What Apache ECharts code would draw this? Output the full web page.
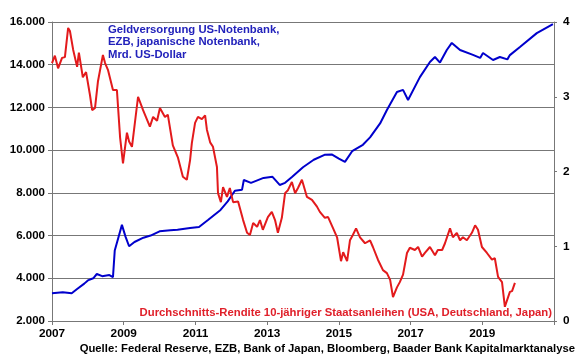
<!DOCTYPE html>
<html>
<head>
<meta charset="utf-8">
<script src="https://cdn.jsdelivr.net/npm/echarts@6/dist/echarts.min.js"></script>
<style>
html,body{margin:0;padding:0;background:#fff;}
#c{width:580px;height:359px;}
</style>
</head>
<body>
<div id="c"></div>
<script>
// Geldversorgung (Mrd. US-Dollar), left axis
const blueYears = [2007.0,2007.3,2007.55,2007.7,2007.9,2008.0,2008.15,2008.25,2008.4,2008.6,2008.7,2008.75,2008.85,2008.95,2009.05,2009.15,2009.3,2009.55,2009.75,2010.0,2010.3,2010.5,2010.85,2011.1,2011.35,2011.7,2011.9,2012.1,2012.3,2012.35,2012.55,2012.9,2013.15,2013.35,2013.5,2013.7,2014.0,2014.3,2014.6,2014.8,2015.0,2015.17,2015.37,2015.67,2015.87,2016.15,2016.34,2016.62,2016.79,2016.93,2017.26,2017.54,2017.68,2017.82,2018.01,2018.15,2018.38,2018.74,2018.94,2019.02,2019.3,2019.49,2019.7,2019.77,2020.05,2020.52,2020.97];
const blueValues = [3300,3350,3300,3500,3750,3900,4000,4200,4100,4150,4050,5300,5900,6500,5950,5500,5700,5900,6000,6200,6250,6270,6350,6400,6730,7200,7600,8100,8150,8600,8470,8700,8750,8370,8470,8750,9200,9550,9780,9800,9600,9450,9950,10250,10600,11250,11880,12720,12820,12350,13420,14130,14360,14100,14690,15020,14690,14460,14320,14550,14220,14360,14250,14450,14830,15480,15900];
// Durchschnitts-Rendite (%), right axis
const redYears = [2007.00,2007.08,2007.17,2007.28,2007.36,2007.45,2007.50,2007.59,2007.70,2007.75,2007.86,2007.95,2008.06,2008.12,2008.20,2008.28,2008.42,2008.48,2008.56,2008.70,2008.81,2008.90,2008.98,2009.09,2009.15,2009.23,2009.40,2009.54,2009.73,2009.82,2009.93,2010.01,2010.15,2010.23,2010.37,2010.51,2010.65,2010.76,2010.85,2010.90,2010.99,2011.07,2011.18,2011.27,2011.32,2011.41,2011.49,2011.60,2011.63,2011.71,2011.77,2011.88,2011.96,2012.05,2012.19,2012.33,2012.44,2012.52,2012.61,2012.72,2012.80,2012.88,2013.02,2013.13,2013.22,2013.30,2013.41,2013.50,2013.58,2013.69,2013.78,2013.86,2013.97,2014.11,2014.25,2014.39,2014.47,2014.61,2014.70,2014.84,2014.95,2015.06,2015.12,2015.23,2015.31,2015.39,2015.48,2015.59,2015.73,2015.87,2015.95,2016.09,2016.23,2016.34,2016.43,2016.51,2016.62,2016.70,2016.79,2016.90,2016.98,2017.12,2017.21,2017.32,2017.40,2017.54,2017.68,2017.76,2017.88,2017.96,2018.10,2018.18,2018.29,2018.38,2018.46,2018.57,2018.71,2018.80,2018.88,2018.99,2019.13,2019.27,2019.35,2019.44,2019.55,2019.63,2019.72,2019.77,2019.83,2019.91];
const redValues = [3.45,3.55,3.38,3.52,3.53,3.92,3.88,3.63,3.40,3.59,3.26,3.33,3.02,2.82,2.85,3.20,3.56,3.45,3.36,3.09,3.09,2.45,2.11,2.52,2.40,2.33,3.00,2.82,2.60,2.73,2.68,2.85,2.73,2.76,2.35,2.19,1.93,1.89,2.15,2.38,2.65,2.73,2.70,2.75,2.56,2.39,2.33,2.06,1.71,1.59,1.79,1.66,1.78,1.59,1.60,1.35,1.18,1.15,1.31,1.26,1.35,1.22,1.39,1.46,1.35,1.18,1.38,1.71,1.75,1.86,1.71,1.78,1.89,1.66,1.62,1.53,1.46,1.38,1.39,1.24,1.12,0.80,0.92,0.80,1.08,1.15,1.24,1.12,1.04,1.08,0.99,0.82,0.68,0.64,0.55,0.32,0.45,0.52,0.62,0.91,0.98,0.95,0.99,0.86,0.91,0.99,0.88,0.95,0.95,1.04,1.24,1.12,1.18,1.08,1.12,1.08,1.18,1.28,1.22,0.99,0.91,0.82,0.84,0.59,0.52,0.19,0.32,0.39,0.40,0.51];

const leftTicks = [2000,4000,6000,8000,10000,12000,14000,16000];
const rightTicks = [0,1,2,3,4];
const xTicks = [2007,2009,2011,2013,2015,2017,2019];

const blueLabel = 'Geldversorgung US-Notenbank,\nEZB, japanische Notenbank,\nMrd. US-Dollar';
const redLabel = 'Durchschnitts-Rendite 10-jähriger Staatsanleihen (USA, Deutschland, Japan)';
const sourceLabel = 'Quelle: Federal Reserve, EZB, Bank of Japan, Bloomberg, Baader Bank Kapitalmarktanalyse';

function fmtDe(v){ return String(v).replace(/\B(?=(\d{3})+(?!\d))/g,'.'); }

const FONT = 'Liberation Sans, Arial, sans-serif';
const FS = 11.3;
const chart = echarts.init(document.getElementById('c'), null, {renderer:'canvas'});
chart.setOption({
  animation:false,
  backgroundColor:'#fff',
  grid:{left:52,right:26,top:22,bottom:38,containLabel:false},
  xAxis:{
    type:'value',min:2007,max:2021,interval:2,
    axisLine:{show:true,lineStyle:{color:'#777',width:1}},
    axisTick:{show:true,length:4,lineStyle:{color:'#777'}},
    splitLine:{show:false},
    axisLabel:{margin:7,color:'#000',fontFamily:FONT,fontWeight:'bold',fontSize:11.8,
      formatter:v=> xTicks.indexOf(v)>=0 ? String(v) : ''}
  },
  yAxis:[{
    type:'value',min:leftTicks[0],max:leftTicks[leftTicks.length-1],interval:2000,
    axisLine:{show:true,lineStyle:{color:'#777'}},
    axisTick:{show:true,length:4,lineStyle:{color:'#777'}},
    splitLine:{show:true,lineStyle:{color:'#777',width:1}},
    axisLabel:{margin:7,color:'#000',fontFamily:FONT,fontWeight:'bold',fontSize:11.5,formatter:v=>fmtDe(v)}
  },{
    type:'value',min:rightTicks[0],max:rightTicks[rightTicks.length-1],interval:1,position:'right',
    axisLine:{show:true,lineStyle:{color:'#777'}},
    axisTick:{show:true,length:3,lineStyle:{color:'#777'}},
    splitLine:{show:false},
    axisLabel:{margin:9,color:'#000',fontFamily:FONT,fontWeight:'bold',fontSize:11.8}
  }],
  series:[{
    type:'line',yAxisIndex:0,showSymbol:false,
    lineStyle:{color:'#0000CC',width:2},
    data:blueYears.map((y,i)=>[y,blueValues[i]])
  },{
    type:'line',yAxisIndex:1,showSymbol:false,
    lineStyle:{color:'#E31A1C',width:2},
    data:redYears.map((y,i)=>[y,redValues[i]])
  }],
  graphic:[
    {type:'text',left:108,top:23,style:{text:blueLabel,fill:'#2222BB',font:'bold '+FS+'px '+FONT,lineHeight:12.8}},
    {type:'text',right:28,top:307,style:{text:redLabel,fill:'#E0202A',font:'bold '+FS+'px '+FONT}},
    {type:'text',right:5,top:343,style:{text:sourceLabel,fill:'#000',font:'bold '+FS+'px '+FONT}}
  ]
});
</script>
</body>
</html>
